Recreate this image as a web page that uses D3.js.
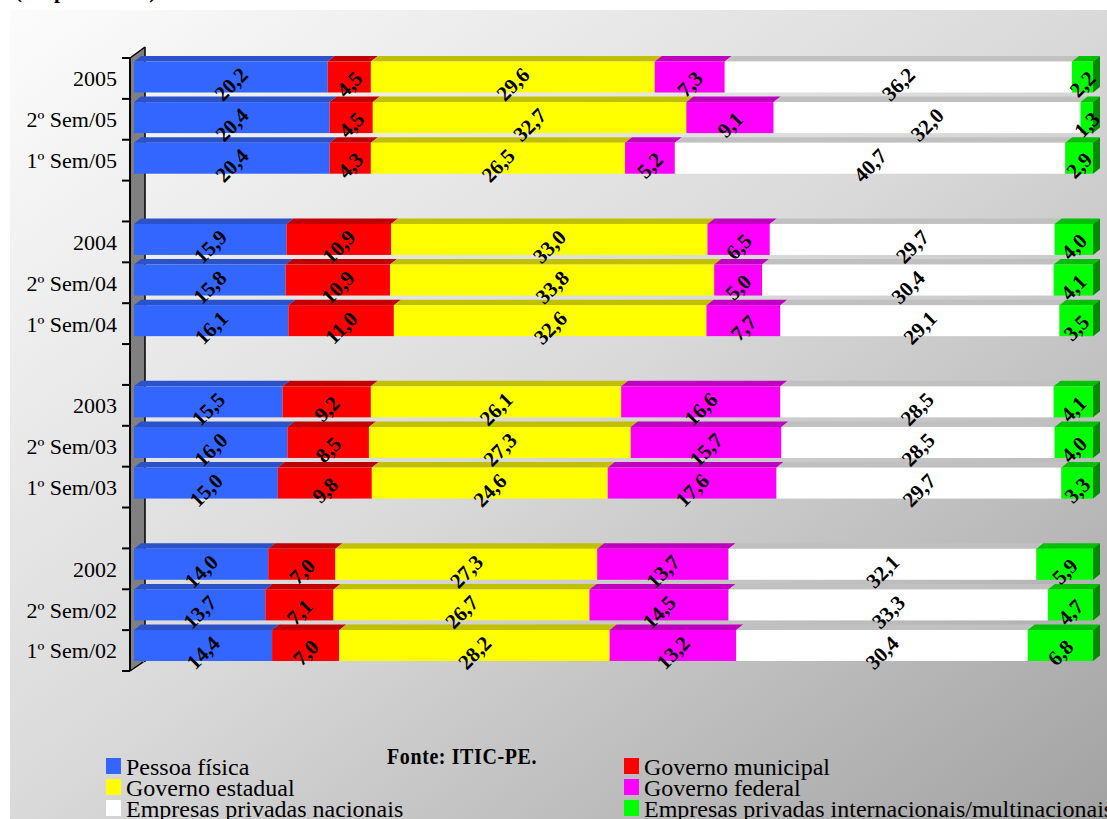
<!DOCTYPE html>
<html>
<head>
<meta charset="utf-8">
<script src="https://cdn.jsdelivr.net/npm/d3@7"></script>
<style>
  html, body { margin: 0; padding: 0; background: #ffffff; }
  svg { display: block; }
  text { font-family: "Liberation Serif", "Times New Roman", serif; }
</style>
</head>
<body>
<div id="chart"></div>
<script>
// Periods, top to bottom (each year followed by its two semesters)
const categories = ["2005", "2º Sem/05", "1º Sem/05",
                    "2004", "2º Sem/04", "1º Sem/04",
                    "2003", "2º Sem/03", "1º Sem/03",
                    "2002", "2º Sem/02", "1º Sem/02"];

const seriesNames = ["Pessoa física", "Governo municipal", "Governo estadual",
                     "Governo federal", "Empresas privadas nacionais",
                     "Empresas privadas internacionais/multinacionais"];

// Share of each client type (%)
const pessoaFisica      = [20.2, 20.4, 20.4, 15.9, 15.8, 16.1, 15.5, 16.0, 15.0, 14.0, 13.7, 14.4];
const governoMunicipal  = [ 4.5,  4.5,  4.3, 10.9, 10.9, 11.0,  9.2,  8.5,  9.8,  7.0,  7.1,  7.0];
const governoEstadual   = [29.6, 32.7, 26.5, 33.0, 33.8, 32.6, 26.1, 27.3, 24.6, 27.3, 26.7, 28.2];
const governoFederal    = [ 7.3,  9.1,  5.2,  6.5,  5.0,  7.7, 16.6, 15.7, 17.6, 13.7, 14.5, 13.2];
const empNacionais      = [36.2, 32.0, 40.7, 29.7, 30.4, 29.1, 28.5, 28.5, 29.7, 32.1, 33.3, 30.4];
const empInternacionais = [ 2.2,  1.3,  2.9,  4.0,  4.1,  3.5,  4.1,  4.0,  3.3,  5.9,  4.7,  6.8];

const seriesValues = [pessoaFisica, governoMunicipal, governoEstadual,
                      governoFederal, empNacionais, empInternacionais];

const frontColors = ["#3366FF", "#FF0000", "#FFFF00", "#FF00FF", "#FFFFFF", "#00FF00"];
const topColors   = ["#2B52C8", "#C00000", "#C0C000", "#C000C0", "#C0C0C0", "#00C000"];
const sideColor   = "#008A00";

const W = 1107, H = 819;
const svg = d3.select("#chart").append("svg").attr("width", W).attr("height", H);

// Background panel with diagonal gradient
const defs = svg.append("defs");
const grad = defs.append("linearGradient").attr("id", "bg")
  .attr("x1", 0).attr("y1", 0).attr("x2", 1).attr("y2", 1);
grad.append("stop").attr("offset", 0).attr("stop-color", "#fcfcfc");
grad.append("stop").attr("offset", 0.5).attr("stop-color", "#d9d9d9");
grad.append("stop").attr("offset", 1).attr("stop-color", "#a2a2a2");
svg.append("rect").attr("x", 10).attr("y", 10).attr("width", W - 10).attr("height", H - 10)
  .attr("fill", "url(#bg)");

// Heading (mostly above the visible area)
svg.append("text").attr("x", 15).attr("y", -2)
  .attr("font-size", 21).attr("font-weight", "bold")
  .text("(em percentual)");

// Table for the stack layout
const table = categories.map((c, i) => {
  const row = { category: c };
  seriesNames.forEach((s, k) => row[s] = seriesValues[k][i]);
  return row;
});
const stacked = d3.stack().keys(seriesNames)(table);

// 15 slots: 4 groups of 3 rows with a blank slot between groups
const nSlots = 15;
const slotOf = i => i + Math.floor(i / 3);

const x = d3.scaleLinear().domain([0, 100]).range([134, 1093]);
const slotEdge = d3.scaleLinear().domain([0, nSlots]).range([58, 671]);
const frontTop = d3.scaleLinear().domain([0, nSlots - 1]).range([61.5, 630]);
const barH = 31;
const depthX = 7, depthY = 5.5;

// Side wall
const wallX0 = 130, wallX1 = 145;
svg.append("polygon")
  .attr("points", [[wallX0, 58], [wallX1, 47], [wallX1, 662], [wallX0, 671]].join(" "))
  .attr("fill", "#808080");
const wallLines = [
  [[wallX0, 58], [wallX1, 47]],
  [[wallX1, 47], [wallX1, 662]],
  [[wallX0, 671], [wallX1 - 2, 662]]
];
svg.append("g").selectAll("path").data(wallLines).join("path")
  .attr("d", d => d3.line()(d))
  .attr("stroke", "#000").attr("stroke-width", 1.5).attr("fill", "none");

// Axis line and ticks at slot boundaries
svg.append("line").attr("x1", wallX0).attr("x2", wallX0)
  .attr("y1", slotEdge(0)).attr("y2", slotEdge(nSlots))
  .attr("stroke", "#000").attr("stroke-width", 2);
svg.append("g").selectAll("line").data(d3.range(nSlots + 1)).join("line")
  .attr("x1", 122).attr("x2", wallX0)
  .attr("y1", d => slotEdge(d)).attr("y2", d => slotEdge(d))
  .attr("stroke", "#000").attr("stroke-width", 2);

// Category labels
svg.append("g").selectAll("text").data(categories).join("text")
  .attr("x", 117)
  .attr("y", (d, i) => (slotEdge(slotOf(i)) + slotEdge(slotOf(i) + 1)) / 2)
  .attr("dy", "0.36em")
  .attr("text-anchor", "end")
  .attr("font-size", 22)
  .attr("fill", "#000")
  .text(d => d);

// Bars
const barsG = svg.append("g");
categories.forEach((c, i) => {
  const y0 = frontTop(slotOf(i));
  const row = barsG.append("g");
  stacked.forEach((layer, k) => {
    const d = layer[i];
    const xa = x(d[0]), xb = x(d[1]);
    // top face
    row.append("polygon")
      .attr("points", [[xa, y0], [xb, y0], [xb + depthX, y0 - depthY], [xa + depthX, y0 - depthY]].join(" "))
      .attr("fill", topColors[k]);
    // front face
    row.append("rect")
      .attr("x", xa).attr("y", y0).attr("width", xb - xa).attr("height", barH)
      .attr("fill", frontColors[k]);
    // right side of the final segment
    if (k === stacked.length - 1) {
      row.append("polygon")
        .attr("points", [[xb, y0], [xb + depthX, y0 - depthY], [xb + depthX, y0 + barH - depthY], [xb, y0 + barH]].join(" "))
        .attr("fill", sideColor);
    }
  });
});

// Value labels, rotated
const fmt = v => v.toFixed(1).replace(".", ",");
const labelsG = svg.append("g");
categories.forEach((c, i) => {
  const y0 = frontTop(slotOf(i));
  stacked.forEach((layer, k) => {
    const d = layer[i];
    const cx = (x(d[0]) + x(d[1])) / 2;
    const cy = y0 + barH / 2 + 7;
    labelsG.append("text")
      .attr("transform", `translate(${cx},${cy}) rotate(-45)`)
      .attr("text-anchor", "middle")
      .attr("dy", "0.35em")
      .attr("font-size", 21)
      .attr("font-weight", "bold")
      .attr("fill", "#000")
      .text(fmt(d.data[seriesNames[k]]));
  });
});

// Source note
svg.append("text")
  .attr("transform", "translate(387,764) scale(1,1.15)")
  .attr("font-size", 20).attr("font-weight", "bold")
  .attr("letter-spacing", 0.6)
  .text("Fonte: ITIC-PE.");

// Legend: two columns, three rows
const legendCols = [106, 624];
const legendRows = [775, 796, 817];
const legend = svg.append("g").selectAll("g").data(seriesNames).join("g")
  .attr("transform", (d, i) => `translate(${legendCols[i % 2]},${legendRows[Math.floor(i / 2)]})`);
legend.append("rect")
  .attr("x", 0).attr("y", -17).attr("width", 15).attr("height", 16)
  .attr("fill", (d, i) => frontColors[i]);
legend.append("text")
  .attr("x", 20).attr("y", 0)
  .attr("font-size", 24)
  .attr("fill", "#000")
  .text(d => d);
</script>
</body>
</html>
